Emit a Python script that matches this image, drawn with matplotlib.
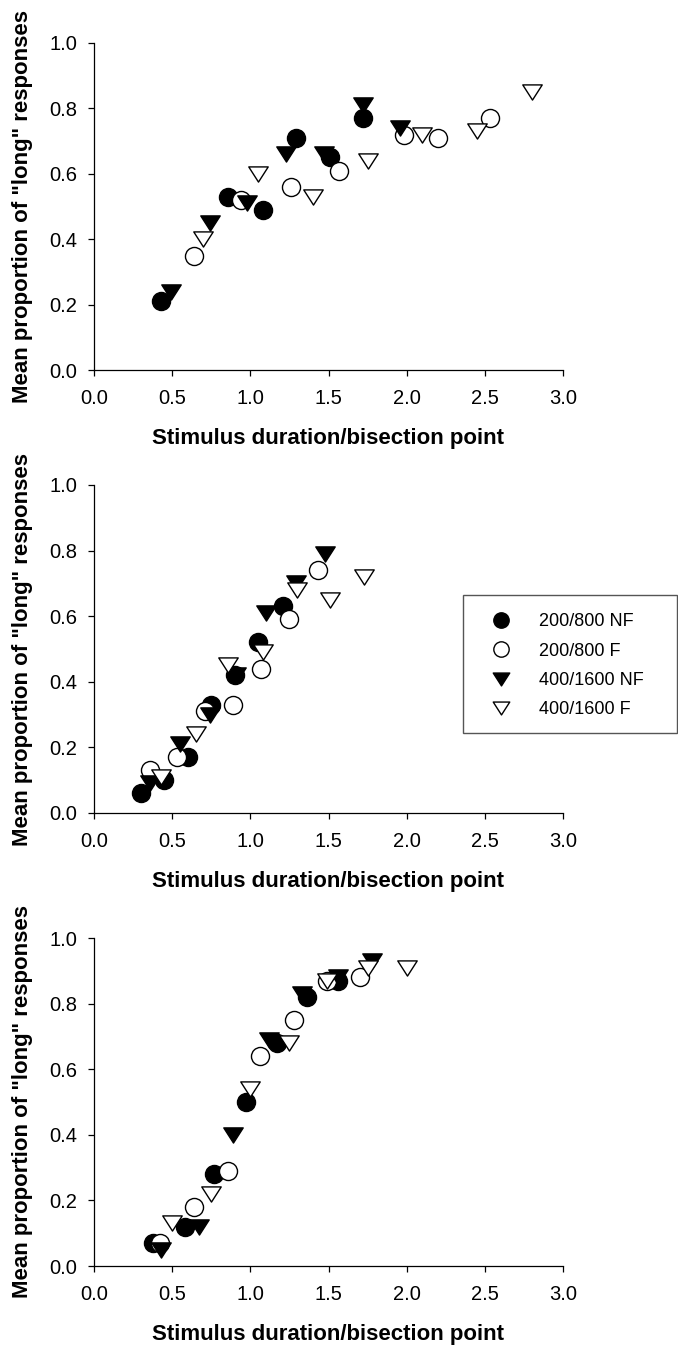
import matplotlib
matplotlib.use("Agg")
from matplotlib import pyplot as plt
from matplotlib.path import Path
from matplotlib.patches import Rectangle

plt.rcParams['font.family'] = ['Liberation Sans', 'DejaVu Sans']

# panel 1
p1_nf200_x = [0.43, 0.86, 1.08, 1.29, 1.51, 1.72]
p1_nf200_y = [0.21, 0.53, 0.49, 0.71, 0.65, 0.77]
p1_f200_x = [0.64, 0.94, 1.26, 1.57, 1.98, 2.20, 2.53]
p1_f200_y = [0.35, 0.52, 0.56, 0.61, 0.72, 0.71, 0.77]
p1_nf400_x = [0.49, 0.74, 0.98, 1.23, 1.47, 1.72, 1.96]
p1_nf400_y = [0.24, 0.45, 0.51, 0.66, 0.66, 0.81, 0.74]
p1_f400_x = [0.70, 1.05, 1.40, 1.75, 2.10, 2.45, 2.80]
p1_f400_y = [0.40, 0.60, 0.53, 0.64, 0.72, 0.73, 0.85]

# panel 2
p2_nf200_x = [0.30, 0.45, 0.60, 0.75, 0.90, 1.05, 1.21]
p2_nf200_y = [0.06, 0.10, 0.17, 0.33, 0.42, 0.52, 0.63]
p2_f200_x = [0.36, 0.53, 0.71, 0.89, 1.07, 1.25, 1.43]
p2_f200_y = [0.13, 0.17, 0.31, 0.33, 0.44, 0.59, 0.74]
p2_nf400_x = [0.36, 0.55, 0.74, 0.91, 1.10, 1.29, 1.48]
p2_nf400_y = [0.09, 0.21, 0.30, 0.42, 0.61, 0.70, 0.79]
p2_f400_x = [0.43, 0.65, 0.86, 1.08, 1.30, 1.51, 1.73]
p2_f400_y = [0.11, 0.24, 0.45, 0.49, 0.68, 0.65, 0.72]

# panel 3
p3_nf200_x = [0.38, 0.58, 0.77, 0.97, 1.17, 1.36, 1.56]
p3_nf200_y = [0.07, 0.12, 0.28, 0.50, 0.68, 0.82, 0.87]
p3_f200_x = [0.42, 0.64, 0.86, 1.06, 1.28, 1.49, 1.70]
p3_f200_y = [0.07, 0.18, 0.29, 0.64, 0.75, 0.87, 0.88]
p3_nf400_x = [0.43, 0.67, 0.89, 1.12, 1.33, 1.56, 1.78]
p3_nf400_y = [0.05, 0.12, 0.40, 0.69, 0.83, 0.88, 0.93]
p3_f400_x = [0.50, 0.75, 1.00, 1.25, 1.49, 1.75, 2.00]
p3_f400_y = [0.13, 0.22, 0.54, 0.68, 0.87, 0.91, 0.91]

labels = ['200/800 NF', '200/800 F', '400/1600 NF', '400/1600 F']
xticks = [0.0, 0.5, 1.0, 1.5, 2.0, 2.5, 3.0]
yticks = [0.0, 0.2, 0.4, 0.6, 0.8, 1.0]

# flatter downward triangle than matplotlib's 'v'
tri = Path([(-1, 0.78), (1, 0.78), (0, -0.78), (-1, 0.78)],
           [Path.MOVETO, Path.LINETO, Path.LINETO, Path.CLOSEPOLY])

styles = [dict(marker='o', ms=13, mfc='black', mec='black'),
          dict(marker='o', ms=13, mfc='white', mec='black'),
          dict(marker=tri, ms=14, mfc='black', mec='black'),
          dict(marker=tri, ms=14, mfc='white', mec='black')]

panels = [
    [(p1_nf200_x, p1_nf200_y), (p1_f200_x, p1_f200_y), (p1_nf400_x, p1_nf400_y), (p1_f400_x, p1_f400_y)],
    [(p2_nf200_x, p2_nf200_y), (p2_f200_x, p2_f200_y), (p2_nf400_x, p2_nf400_y), (p2_f400_x, p2_f400_y)],
    [(p3_nf200_x, p3_nf200_y), (p3_f200_x, p3_f200_y), (p3_nf400_x, p3_nf400_y), (p3_f400_x, p3_f400_y)],
]

W, H = 678, 1348
fig = plt.figure(figsize=(W / 100, H / 100), dpi=100)

tops = [43, 485, 938]
bottoms = [370, 813, 1266]
left, right = 94, 563

handles = []
for i, series in enumerate(panels):
    ax = fig.add_axes([left / W, 1 - bottoms[i] / H, (right - left) / W, (bottoms[i] - tops[i]) / H])
    for (x, y), st in zip(series, styles):
        h, = ax.plot(x, y, ls='none', mew=1.0, clip_on=False, **st)
        if i == 1:
            handles.append(h)
    ax.set_xlim(0, 3)
    ax.set_ylim(0, 1)
    ax.set_xticks(xticks)
    ax.set_yticks(yticks)
    ax.set_xticklabels(['%.1f' % v for v in xticks])
    ax.set_yticklabels(['%.1f' % v for v in yticks])
    ax.spines['top'].set_visible(False)
    ax.spines['right'].set_visible(False)
    ax.spines['left'].set_linewidth(0.9)
    ax.spines['bottom'].set_linewidth(0.9)
    ax.tick_params(direction='out', length=4, width=0.9, labelsize=14.5)
    ax.tick_params(axis='x', pad=10)
    ax.tick_params(axis='y', pad=8)
    ax.set_xlabel('Stimulus duration/bisection point', fontsize=16, fontweight='bold', labelpad=14)
    ax.set_ylabel('Mean proportion of "long" responses', fontsize=16, fontweight='bold', labelpad=12)

# legend box
fig.add_artist(Rectangle((463 / W, 1 - 733 / H), 214 / W, 138 / H, transform=fig.transFigure,
                         fill=False, edgecolor='#555555', lw=1.0))
fig.legend(handles, labels, loc='upper left', bbox_to_anchor=(492 / W, 1 - 613.5 / H),
           frameon=False, fontsize=13, borderpad=0, borderaxespad=0, handlelength=1.0,
           handletextpad=1.6, labelspacing=0.68, markerscale=0.85, numpoints=1)

fig.savefig('out.png', dpi=100)
